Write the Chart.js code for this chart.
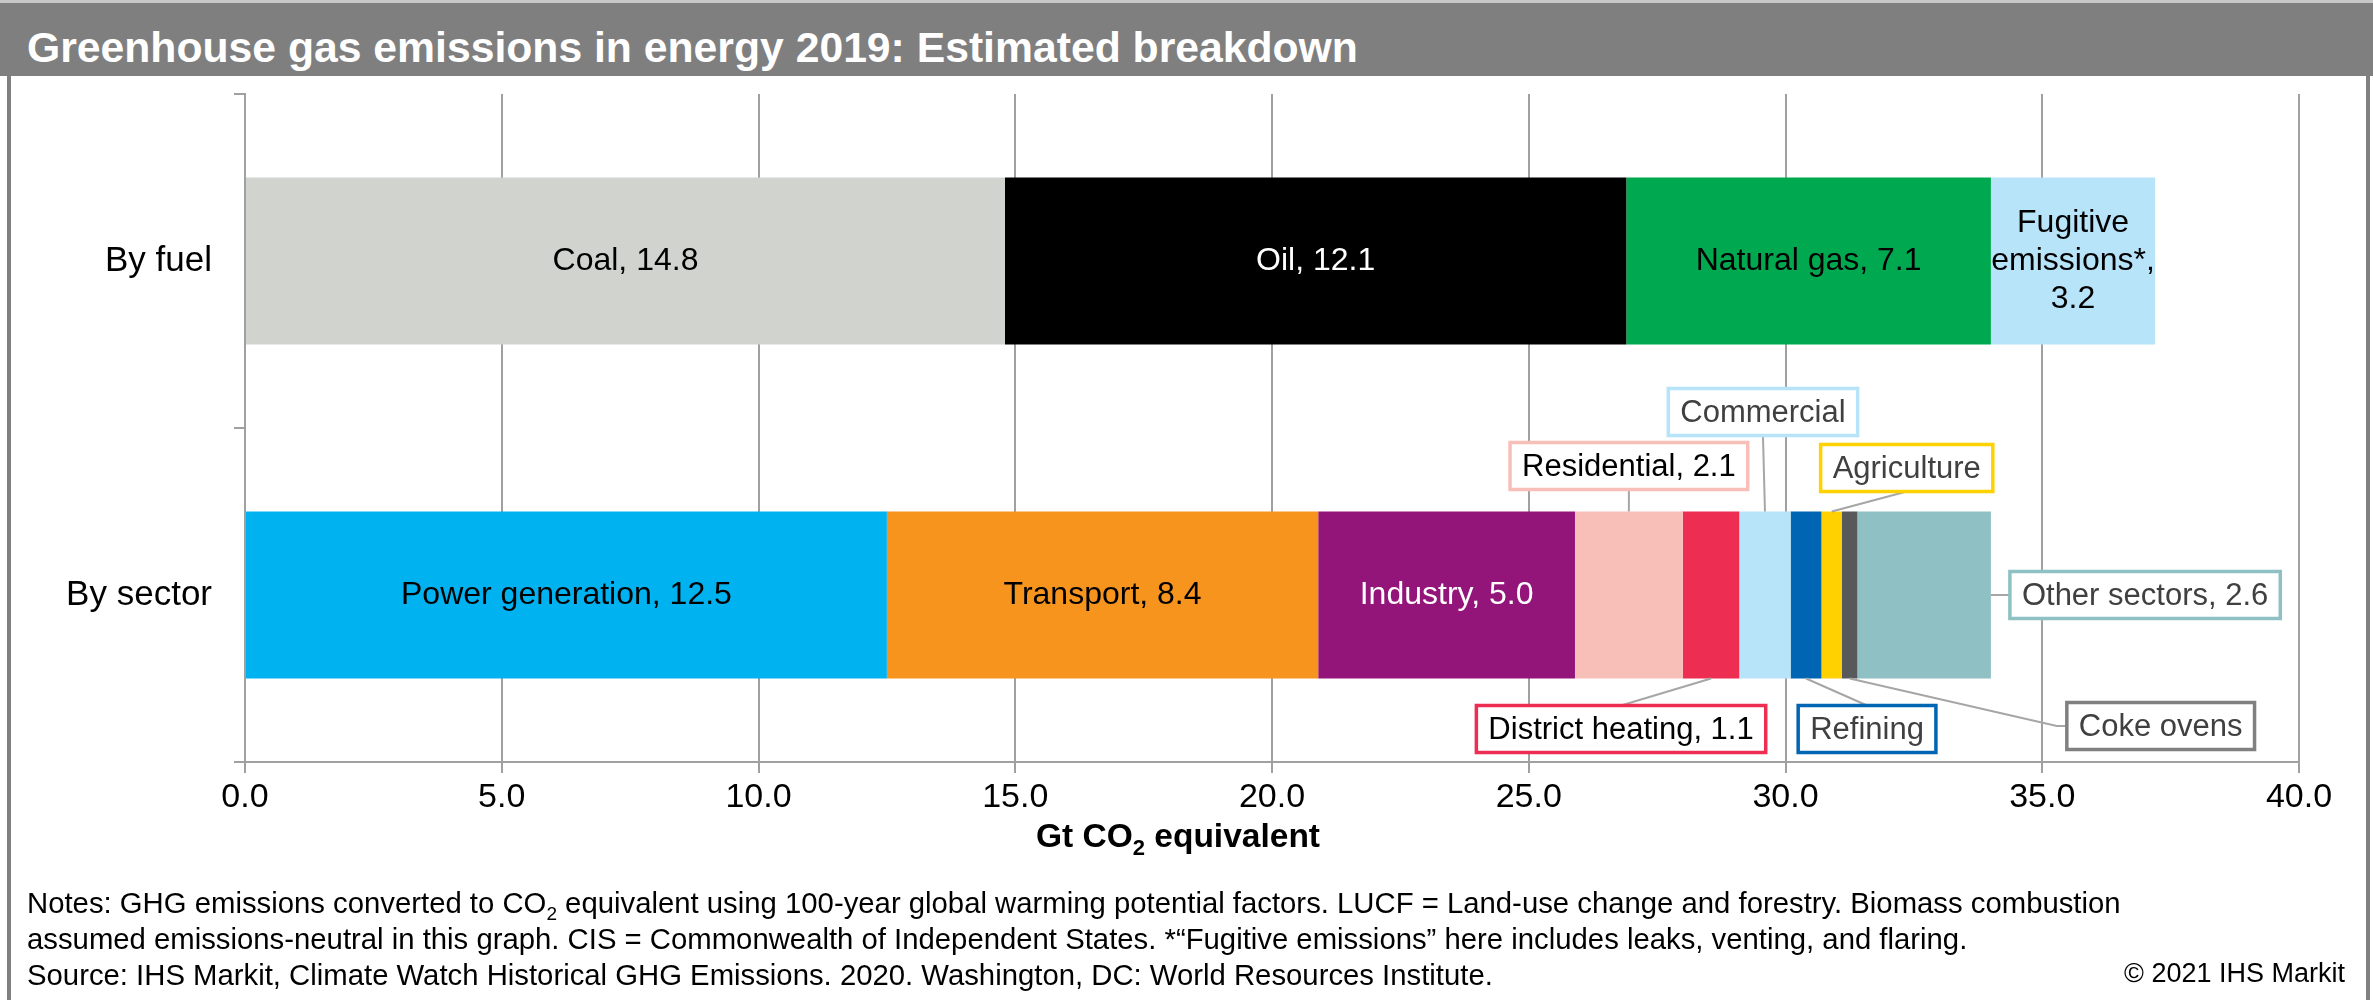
<!DOCTYPE html>
<html>
<head>
<meta charset="utf-8">
<script src="https://cdn.jsdelivr.net/npm/chart.js@4.4.0/dist/chart.umd.min.js"></script>
<style>
  html, body { margin: 0; padding: 0; background: #fff; }
  #wrap { position: relative; width: 2373px; height: 1000px; overflow: hidden; font-family: "Liberation Sans", Arial, sans-serif; }
  #titlebar { position: absolute; left: 0; top: 0; width: 2373px; height: 76px; background: #7f7f7f; border-top: 3px solid #c8c8c8; box-sizing: border-box; }
  #title { position: absolute; left: 27px; top: 26px; color: #fff; font-weight: bold; font-size: 42.7px; line-height: 43px; white-space: nowrap; }
  .frame { position: absolute; top: 76px; width: 4px; height: 924px; background: #808080; }
  #chart { position: absolute; left: 0; top: 0; }
  #notes { position: absolute; left: 27px; top: 885px; font-size: 29.3px; line-height: 36px; color: #000; white-space: nowrap; }
  #copy { position: absolute; right: 28px; top: 955px; font-size: 27px; line-height: 36px; color: #000; }
  sub { font-size: 0.65em; vertical-align: -0.35em; line-height: 0; }
</style>
</head>
<body>
<div id="wrap">
  <canvas id="chart" width="2373" height="1000"></canvas>
  <div id="titlebar"></div>
  <div id="title">Greenhouse gas emissions in energy 2019: Estimated breakdown</div>
  <div class="frame" style="left:7px"></div>
  <div class="frame" style="left:2366px"></div>
  <div id="notes">Notes: GHG emissions converted to CO<sub>2</sub> equivalent using 100-year global warming potential factors. LUCF = Land-use change and forestry. Biomass combustion<br>assumed emissions-neutral in this graph. CIS = Commonwealth of Independent States. *“Fugitive emissions” here includes leaks, venting, and flaring.<br>Source: IHS Markit, Climate Watch Historical GHG Emissions. 2020. Washington, DC: World Resources Institute.</div>
  <div id="copy">© 2021 IHS Markit</div>
</div>
<script>
// data
const categories = ['By fuel', 'By sector'];

const fuelNames = ['Coal', 'Oil', 'Natural gas', 'Fugitive emissions*'];
const fuelValues = [14.8, 12.1, 7.1, 3.2];
const fuelColors = ['#d1d3ce', '#000000', '#00a94f', '#b7e4f9'];

const sectorNames = ['Power generation', 'Transport', 'Industry', 'Residential', 'District heating',
  'Commercial', 'Refining', 'Agriculture', 'Coke ovens', 'Other sectors'];
const sectorValues = [12.5, 8.4, 5.0, 2.1, 1.1, 1.0, 0.6, 0.4, 0.3, 2.6];
const sectorColors = ['#00b2ef', '#f7941e', '#93157a', '#f8bfb8', '#ee2d53',
  '#b7e4f9', '#0066b3', '#ffd100', '#58595b', '#8fc0c4'];

const xMin = 0, xMax = 40, xStep = 5;

const FONT = '"Liberation Sans", Arial, sans-serif';
const GRID = '#a0a0a0';

// labels drawn inside bars; the rest get callout boxes
const whiteText = ['Oil', 'Industry'];
const wrapped = { 'Fugitive emissions*': ['Fugitive', 'emissions*,'] };
const callouts = {
  'Residential':      { side: 'top',    dx: 0,   gap: 22, value: true,  border: '#f8bfb8', text: '#000' },
  'Commercial':       { side: 'top',    dx: -2,  gap: 76, value: false, border: '#b7e4f9', text: '#404040' },
  'Agriculture':      { side: 'top',    dx: 75,  gap: 20, value: false, border: '#ffd100', text: '#404040' },
  'District heating': { side: 'bottom', dx: -90, gap: 27, value: true,  border: '#ee2d53', text: '#000' },
  'Refining':         { side: 'bottom', dx: 61,  gap: 27, value: false, border: '#0066b3', text: '#404040' },
  'Coke ovens':       { side: 'bottom', dx: 311, gap: 24, value: false, border: '#808080', text: '#404040', elbow: true },
  'Other sectors':    { side: 'right',  gap: 19, value: true,  border: '#8fc0c4', text: '#404040' },
};

const datasets = [];
fuelNames.forEach((n, i) => datasets.push({
  label: n, data: [fuelValues[i], null], backgroundColor: fuelColors[i], stack: 's'
}));
sectorNames.forEach((n, i) => datasets.push({
  label: n, data: [null, sectorValues[i]], backgroundColor: sectorColors[i], stack: 's'
}));

const barLabels = {
  id: 'barLabels',
  afterDatasetsDraw(chart) {
    const ctx = chart.ctx;
    ctx.save();
    ctx.textAlign = 'center';
    ctx.textBaseline = 'middle';
    const boxes = [];
    chart.data.datasets.forEach((ds, i) => {
      const idx = ds.data[0] != null ? 0 : 1;
      const v = ds.data[idx];
      const el = chart.getDatasetMeta(i).data[idx];
      const p = el.getProps(['x', 'y', 'base', 'height'], true);
      const left = Math.min(p.x, p.base), right = Math.max(p.x, p.base);
      const top = p.y - p.height / 2, bottom = p.y + p.height / 2;
      const cx = (left + right) / 2;
      const c = callouts[ds.label];
      if (!c) {
        ctx.font = '32px ' + FONT;
        ctx.fillStyle = whiteText.includes(ds.label) ? '#fff' : '#000';
        const lines = wrapped[ds.label] ? [...wrapped[ds.label], v.toFixed(1)] : [ds.label + ', ' + v.toFixed(1)];
        lines.forEach((t, k) => ctx.fillText(t, cx, p.y + (k - (lines.length - 1) / 2) * 38));
        return;
      }
      ctx.font = '31px ' + FONT;
      const txt = c.value ? ds.label + ', ' + v.toFixed(1) : ds.label;
      const w = ctx.measureText(txt).width + 24, h = 47;
      let bx, by, line;
      if (c.side === 'top') {
        bx = cx + c.dx - w / 2; by = top - c.gap - h;
        line = [[cx, top], [bx + w / 2, by + h]];
      } else if (c.side === 'bottom') {
        bx = cx + c.dx - w / 2; by = bottom + c.gap;
        line = c.elbow ? [[cx, bottom], [bx - 10, by + h / 2], [bx, by + h / 2]]
                       : [[cx, bottom], [bx + w / 2, by]];
      } else {
        bx = right + c.gap; by = p.y - h / 2;
        line = [[right, p.y], [bx, p.y]];
      }
      boxes.push({ bx, by, w, h, txt, c, line });
    });
    ctx.strokeStyle = '#a6a6a6';
    ctx.lineWidth = 2;
    boxes.forEach(b => {
      ctx.beginPath();
      b.line.forEach((pt, k) => k ? ctx.lineTo(pt[0], pt[1]) : ctx.moveTo(pt[0], pt[1]));
      ctx.stroke();
    });
    ctx.font = '31px ' + FONT;
    boxes.forEach(b => {
      ctx.fillStyle = '#fff';
      ctx.fillRect(b.bx, b.by, b.w, b.h);
      ctx.strokeStyle = b.c.border;
      ctx.lineWidth = 3.5;
      ctx.strokeRect(b.bx, b.by, b.w, b.h);
      ctx.fillStyle = b.c.text;
      ctx.fillText(b.txt, b.bx + b.w / 2, b.by + b.h / 2 + 1);
    });
    ctx.restore();
  }
};

const axisTitle = {
  id: 'axisTitle',
  afterDraw(chart) {
    const ctx = chart.ctx;
    ctx.save();
    ctx.fillStyle = '#000';
    ctx.textBaseline = 'alphabetic';
    const big = 'bold 33.5px ' + FONT, small = 'bold 22px ' + FONT;
    ctx.font = big;
    const a = 'Gt CO', c = ' equivalent';
    const wa = ctx.measureText(a).width, wc = ctx.measureText(c).width;
    ctx.font = small;
    const wb = ctx.measureText('2').width;
    let x = 1178 - (wa + wb + wc) / 2;
    const base = 847;
    ctx.textAlign = 'left';
    ctx.font = big; ctx.fillText(a, x, base); x += wa;
    ctx.font = small; ctx.fillText('2', x, base + 8); x += wb;
    ctx.font = big; ctx.fillText(c, x, base);
    ctx.restore();
  }
};

Chart.defaults.font.family = FONT;
Chart.defaults.color = '#000';

new Chart(document.getElementById('chart'), {
  type: 'bar',
  data: { labels: categories, datasets },
  options: {
    indexAxis: 'y',
    responsive: false,
    animation: false,
    events: [],
    layout: { padding: { top: 94, right: 74, bottom: 0, left: 0 } },
    datasets: { bar: { categoryPercentage: 1, barPercentage: 0.5, borderWidth: 0 } },
    plugins: { legend: { display: false }, tooltip: { enabled: false } },
    scales: {
      x: {
        stacked: true, min: xMin, max: xMax,
        ticks: { stepSize: xStep, padding: 4, font: { size: 34 }, color: '#000',
                 callback: v => Number(v).toFixed(1) },
        grid: { color: GRID, lineWidth: 2, tickLength: 11 },
        border: { color: GRID, width: 2 },
        afterFit: s => { s.height = 238; }
      },
      y: {
        stacked: true,
        ticks: { padding: 22, font: { size: 35 }, color: '#000' },
        grid: { drawOnChartArea: false, offset: true, color: GRID, lineWidth: 2, tickLength: 11 },
        border: { color: GRID, width: 2 },
        afterFit: s => { s.width = 245; }
      }
    }
  },
  plugins: [barLabels, axisTitle]
});
</script>
</body>
</html>
